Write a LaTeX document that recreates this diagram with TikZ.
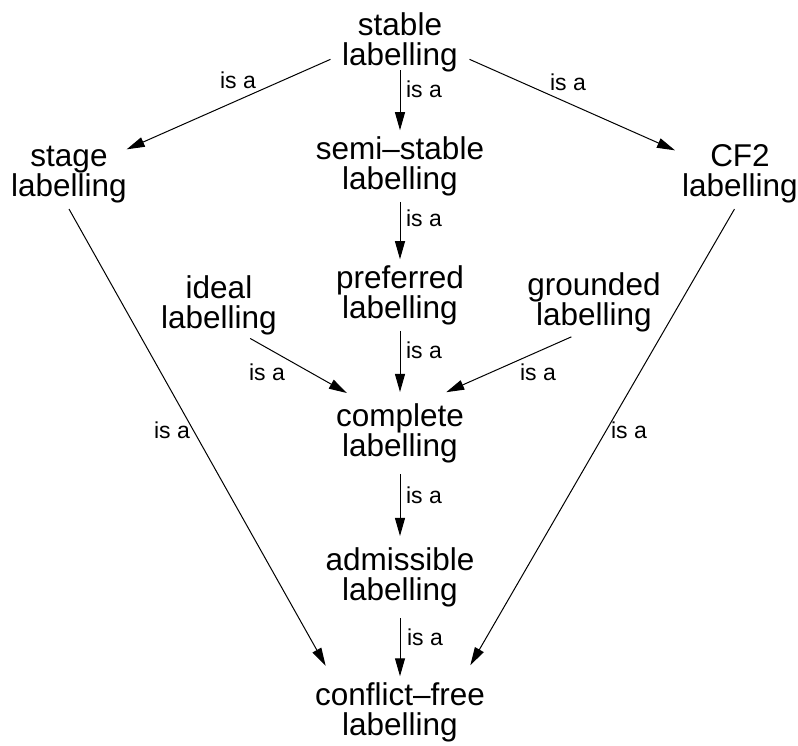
\documentclass[tikz,border=0pt]{standalone}
\usepackage{fontspec}
\setmainfont{Liberation Sans}
\usetikzlibrary{arrows.meta,shapes.geometric}
\begin{document}
\begin{tikzpicture}[x=1pt,y=-1pt,>={Triangle[length=18pt,width=10pt]}, line width=1pt, line join=round,
	lab/.style={ellipse, align=center, inner xsep=4pt, inner ysep=-4.75pt, font=\fontsize{31.5}{30}\selectfont},
	isa/.style={inner sep=0pt, font=\fontsize{23}{26}\selectfont}]
	\useasboundingbox (0,0) rectangle (798,745);
	% cac nhan
	\node[lab, inner ysep=-10pt] (stable) at (400,42) {stable\\labelling};
	\node[lab] (stage) at (69,175) {stage\\labelling};
	\node[lab] (semi) at (400,166) {semi–stable\\labelling};
	\node[lab] (cf2) at (740,174) {CF2\\labelling};
	\node[lab] (ideal) at (219,305) {ideal\\labelling};
	\node[lab] (pref) at (400,295) {preferred\\labelling};
	\node[lab] (ground) at (594,302) {grounded\\labelling};
	\node[lab, inner ysep=-1pt] (compl) at (400,433) {complete\\labelling};
	\node[lab, inner ysep=-1pt] (adm) at (400,577) {admissible\\labelling};
	\node[lab] (cfree) at (400,712) {conflict–free\\labelling};
	% cac canh
	\draw[->] (stable.194) -- (stage.24);
	\draw[->] (stable.south) -- (semi.north);
	\draw[->] (stable.346) -- (cf2.160);
	\draw[->] (semi.south) -- (pref.north);
	\draw[->, shorten >=18pt] (stage.270) -- (cfree.155);
	\draw[->, shorten >=18pt] (cf2.261) -- (cfree.27);
	\draw[->, shorten >=8pt] (ideal.313) -- (compl.142);
	\draw[->] (pref.south) -- (compl.north);
	\draw[->, shorten >=8pt] (ground.237) -- (compl.44);
	\draw[->] (compl.south) -- (adm.north);
	\draw[->] (adm.south) -- (cfree.north);
	% is a
	\node[isa] (isa1) at (238,80) {is a};
	\node[isa] (isa2) at (424,89) {is a};
	\node[isa] (isa3) at (568,82) {is a};
	\node[isa] (isa4) at (424,218) {is a};
	\node[isa] (isa5) at (172,430) {is a};
	\node[isa] (isa6) at (629,430) {is a};
	\node[isa] (isa7) at (267,372) {is a};
	\node[isa] (isa8) at (424,350) {is a};
	\node[isa] (isa9) at (538,372) {is a};
	\node[isa] (isa10) at (424,495) {is a};
	\node[isa] (isa11) at (425,637) {is a};
\end{tikzpicture}
\end{document}
